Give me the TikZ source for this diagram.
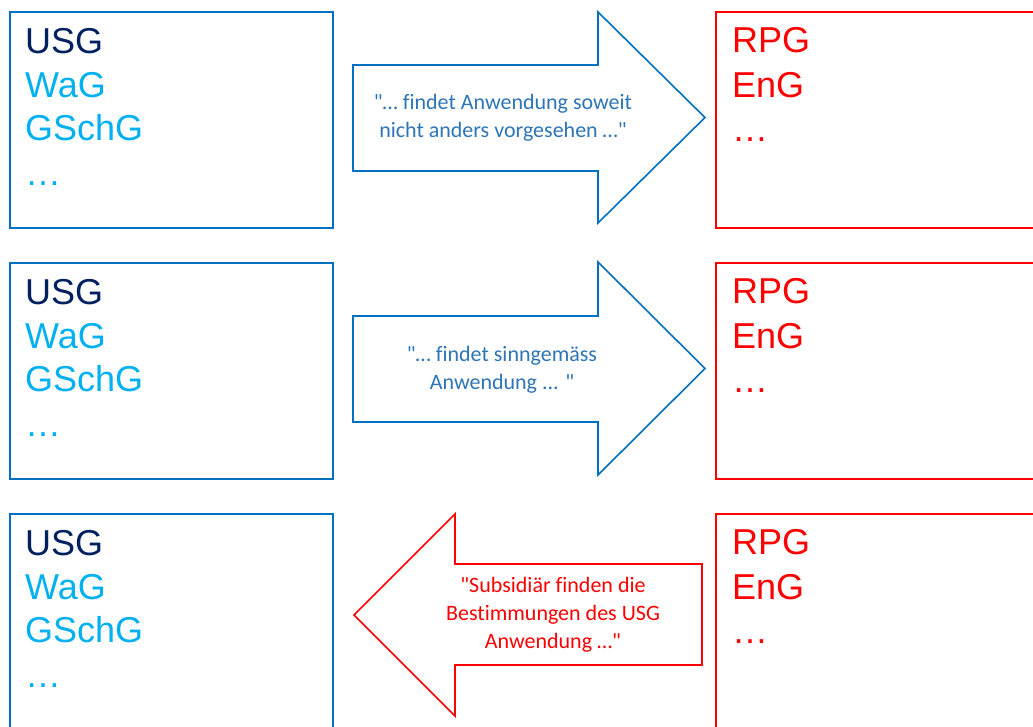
\documentclass[tikz,border=0pt]{standalone}
\usepackage{fontspec}
\setmainfont{Liberation Sans}
\newfontfamily\carlito[Ligatures={NoCommon}]{Carlito}
\usetikzlibrary{positioning}

\definecolor{boxblue}{HTML}{0070C0}
\definecolor{navy}{HTML}{002060}
\definecolor{lightblue}{HTML}{00B0F0}
\definecolor{txtblue}{HTML}{2E75B6}
\definecolor{boxred}{HTML}{FF0000}

\begin{document}
\begin{tikzpicture}[x=1pt, y=-1pt,
    lawbox/.style={line width=1.6pt},
    bigarrow/.style={line width=1.6pt, line join=miter, fill=white},
    law/.style={anchor=base west, inner sep=0pt, font=\fontsize{36}{36}\selectfont},
    quote/.style={align=center, inner sep=0pt, font=\carlito\fontsize{22}{28}\selectfont}]
    \useasboundingbox (0,0) rectangle (1033,726);

    % Define dimensions
    \def\h{216} % height of a box

    \foreach \r/\y in {1/12, 2/263, 3/514} {
        % Draw the two boxes of the row
        \draw[lawbox, boxblue] (10,\y) rectangle (333,\y+\h);
        \draw[lawbox, boxred] (716,\y) rectangle (1045,\y+\h);

        % Left list
        \node[law, navy] (usg\r) at (25,\y+41) {USG};
        \node[law, lightblue] (wag\r) at (25,\y+85) {WaG};
        \node[law, lightblue] (gschg\r) at (25,\y+128) {GSchG};
        \node[law, lightblue] (moreL\r) at (25,\y+173) {…};

        % Right list
        \node[law, boxred] (rpg\r) at (732,\y+40) {RPG};
        \node[law, boxred] (eng\r) at (732,\y+85) {EnG};
        \node[law, boxred] (moreR\r) at (732,\y+129) {…};
    }

    % Arrows between the boxes
    \draw[bigarrow, draw=boxblue] (353,65) -- (598,65) -- (598,12) -- (705,117.5)
        -- (598,223) -- (598,171) -- (353,171) -- cycle;
    \draw[bigarrow, draw=boxblue] (353,316) -- (598,316) -- (598,262) -- (705,368.5)
        -- (598,475) -- (598,422) -- (353,422) -- cycle;
    \draw[bigarrow, draw=boxred] (702,564) -- (455,564) -- (455,514) -- (354,615)
        -- (455,716) -- (455,665) -- (702,665) -- cycle;

    \node[quote, txtblue] (quote1) at (503,118)
        {"… findet Anwendung soweit\\nicht anders vorgesehen …"};
    \node[quote, txtblue] (quote2) at (502,370)
        {"… findet sinngemäss\\Anwendung ... "};
    \node[quote, boxred] (quote3) at (553,615)
        {"Subsidiär finden die\\Bestimmungen des USG\\Anwendung …"};
\end{tikzpicture}
\end{document}
